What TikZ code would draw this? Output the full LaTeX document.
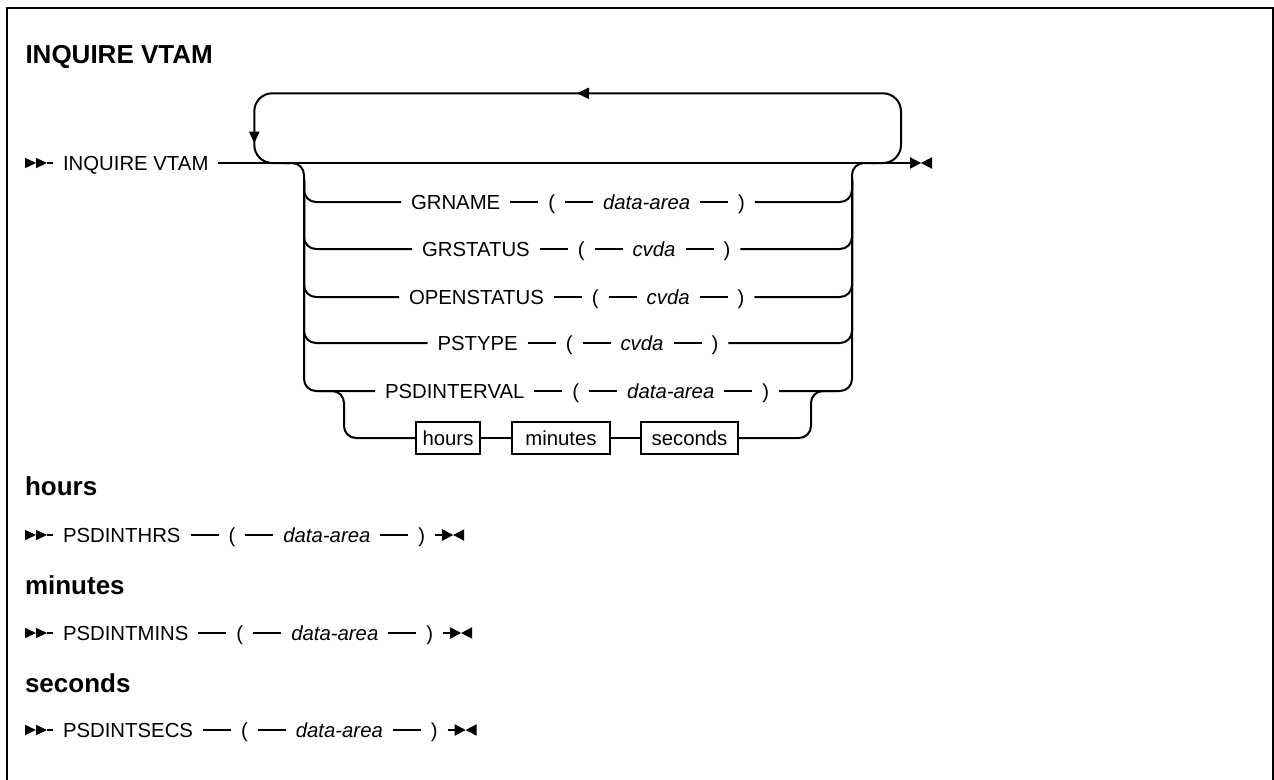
\documentclass[tikz,border=0pt]{standalone}
\usepackage{fontspec}
\setmainfont{Liberation Sans}
\usetikzlibrary{positioning}
\tikzset{
  tok/.style={inner xsep=7.5pt, inner ysep=0pt, outer sep=0pt, text height=10.95pt, text depth=0pt, font=\fontsize{15.26pt}{18pt}\selectfont},
  hbox/.style={tok, draw, line width=1.5pt, inner xsep=3pt, inner ysep=6.4pt},
  heading/.style={anchor=base west, inner sep=0pt, font=\bfseries\fontsize{19.5pt}{23pt}\selectfont},
  rc/.style={rounded corners=9pt},
  startmark/.pic={\fill (0,-5.2) -- (11,0) -- (0,5.2) -- cycle; \fill (11,-5.2) -- (22,0) -- (11,5.2) -- cycle;},
  endmark/.pic={\fill (0,-5.8) -- (11,0) -- (0,5.8) -- cycle; \fill (22,-5.8) -- (11,0) -- (22,5.8) -- cycle;},
}
\newcommand{\synrow}[5]{%
  \node[tok,anchor=west] (#1k) at (#2,#3) {#4};
  \node[tok,right=21pt of #1k] (#1o) {(};
  \node[tok,right=21pt of #1o] (#1v) {\itshape #5};
  \node[tok,right=21pt of #1v] (#1c) {)};
  \draw (#1k) -- (#1o);
  \draw (#1o) -- (#1v);
  \draw (#1v) -- (#1c);
}
\begin{document}
\begin{tikzpicture}[x=0.75pt,y=-0.75pt,line width=1.5pt]
\useasboundingbox (0,0) rectangle (1274,779);
\begin{scope}
  \clip (0,0) rectangle (1274,779);
  \draw[line width=1.65pt] (7,800) -- (7,8.3) -- (1272.8,8.3) -- (1272.8,800);
\end{scope}

% title
\node[heading] (title) at (24.5,63.3) {INQUIRE VTAM};

% main line
\pic at (25,163) {startmark};
\coordinate (m0) at (47,163);
\node[tok,anchor=west,inner xsep=7.5pt] (inq) at (53,163) {INQUIRE VTAM\hspace{4pt}};
\draw (m0) -- (inq);
\coordinate (mend) at (910,163);
\draw (inq) -- (mend);
\pic at (mend) {endmark};

% repeat loop
\draw[rounded corners=13.5pt] (870,163) -| (901,93.3) -| (254.3,163) -- (290,163);
\fill (249,131.7) -- (254.3,143.3) -- (259.6,131.7) -- cycle;
\fill (589,87.5) -- (577,93.3) -- (589,99.1) -- cycle;

% choice rows
\synrow{g}{401}{202}{GRNAME}{data-area}
\synrow{s}{412}{249}{GRSTATUS}{cvda}
\synrow{o}{399}{297}{OPENSTATUS}{cvda}
\synrow{t}{427.5}{343}{PSTYPE}{cvda}
\synrow{p}{375}{391}{PSDINTERVAL}{data-area}

\draw[rc] (285,163) -| (304,391) -- (pk.west);
\foreach \r in {g,s,o,t} { \draw[rc] (304,180) |- (\r k.west); }
\foreach \r in {g,s,o,t} { \draw[rc] (\r c.east) -| (852,180); }
\draw[rc] (pc.east) -| (852,163) -- (875,163);

% hours minutes seconds sub-branch
\node[hbox, minimum width=48pt] (hb) at (448,438) {hours};
\node[hbox, minimum width=73.5pt] (mb) at (561,438) {minutes};
\node[hbox, minimum width=72.75pt] (sb) at (689.5,438) {seconds};
\draw (hb) -- (mb);
\draw (mb) -- (sb);
\draw[rc] (320,391) -| (344,438) -- (hb.west);
\draw[rc] (sb.east) -| (811,391) -- (835,391);

% hours fragment
\node[heading] (hh) at (24,495) {hours};
\pic at (25,535) {startmark};
\coordinate (h0) at (47,535);
\synrow{h}{53}{535}{PSDINTHRS}{data-area}
\draw (h0) -- (hk);
\coordinate[right=5.25pt of hc] (he);
\draw (hc) -- (he);
\pic at (he) {endmark};

% minutes fragment
\node[heading] (mh) at (24,594) {minutes};
\pic at (25,633) {startmark};
\coordinate (n0) at (47,633);
\synrow{n}{53}{633}{PSDINTMINS}{data-area}
\draw (n0) -- (nk);
\coordinate[right=5.25pt of nc] (ne);
\draw (nc) -- (ne);
\pic at (ne) {endmark};

% seconds fragment
\node[heading] (sh) at (24,692) {seconds};
\pic at (25,730) {startmark};
\coordinate (e0) at (47,730);
\synrow{e}{53}{730}{PSDINTSECS}{data-area}
\draw (e0) -- (ek);
\coordinate[right=5.25pt of ec] (ee);
\draw (ec) -- (ee);
\pic at (ee) {endmark};
\end{tikzpicture}
\end{document}
